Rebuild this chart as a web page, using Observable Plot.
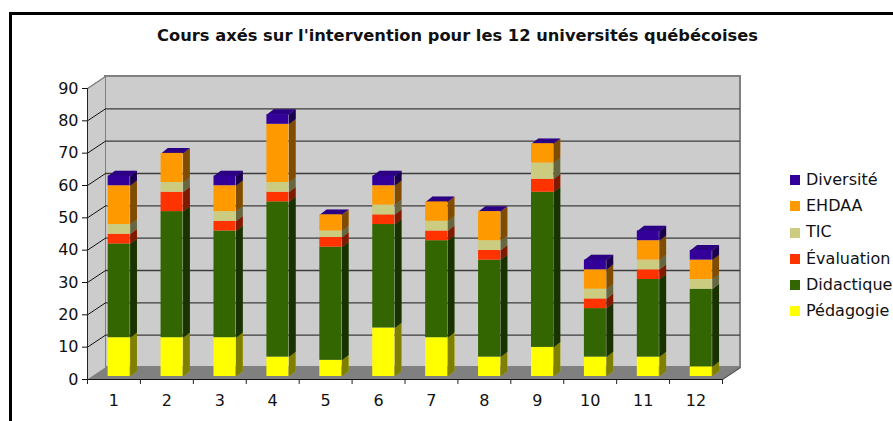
<!DOCTYPE html>
<html lang="fr">
<head>
<meta charset="utf-8">
<script src="https://cdn.jsdelivr.net/npm/d3@7"></script>
<script src="https://cdn.jsdelivr.net/npm/@observablehq/plot@0.6"></script>
<style>
html,body{margin:0;padding:0;background:#fff;overflow:hidden}
#wrap{position:relative;width:893px;height:421px;overflow:hidden;font-family:"DejaVu Sans",Verdana,sans-serif;color:#111}
#frame{position:absolute;left:9px;top:12px;right:-5px;bottom:-5px;border:3px solid #000;box-sizing:border-box;pointer-events:none}
#title{height:60px;box-sizing:border-box;padding:27px 0 0 22px;text-align:center;font-weight:bold;font-size:16.3px;line-height:18px;white-space:nowrap}
#legend{position:absolute;left:790px;top:167px;font-size:16px;line-height:26.2px}
#legend div{white-space:nowrap;display:flex;align-items:center}
#legend i{display:inline-block;width:10px;height:10px;margin-right:6px}
svg{display:block}
</style>
</head>
<body>
<div id="wrap">
  <div id="title"></div>
  <div id="chart"></div>
  <div id="legend"></div>
  <div id="frame"></div>
</div>
<script>
const titleText = "Cours axés sur l'intervention pour les 12 universités québécoises";
const universities = [1, 2, 3, 4, 5, 6, 7, 8, 9, 10, 11, 12];
const yTicks = [0, 10, 20, 30, 40, 50, 60, 70, 80, 90];

const pedagogie  = [12, 12, 12,  6,  5, 15, 12,  6,  9,  6,  6,  3];
const didactique = [29, 39, 33, 48, 35, 32, 30, 30, 48, 15, 24, 24];
const evaluation = [ 3,  6,  3,  3,  3,  3,  3,  3,  4,  3,  3,  0];
const tic        = [ 3,  3,  3,  3,  2,  3,  3,  3,  5,  3,  3,  3];
const ehdaa      = [12,  9,  8, 18,  5,  6,  6,  9,  6,  6,  6,  6];
const diversite  = [ 3,  0,  3,  3,  0,  3,  0,  0,  0,  3,  3,  3];

const seriesNames  = ["Pédagogie", "Didactique", "Évaluation", "TIC", "EHDAA", "Diversité"];
const seriesValues = [pedagogie, didactique, evaluation, tic, ehdaa, diversite];
const seriesColors = ["#ffff00", "#336600", "#ff3300", "#cccc80", "#ff9900", "#330099"];

// pixel sizes of one data unit, from the frame below
const W = 893, H = 361, mL = 87, mR = 171, mT = 28, mB = 42;
const xMin = 0.5, xMax = 12.5, yMax = 90;
const ux = (W - mL - mR) / (xMax - xMin), uy = (H - mT - mB) / yMax;
// oblique projection offsets, in data units
const wallDx = 18 / ux, wallDy = 12 / uy;
const barOffX = 5.2 / ux, barOffY = 3 / uy;
const barW = 22 / ux, barDx = 6.8 / ux, barDy = 5.3 / uy;

const poly = (key, fill, pts) => pts.map(([x, y]) => ({key, fill, x, y}));
const fronts = [], sides = [], tops = [];
universities.forEach((u, i) => {
  const xL = u - barW / 2 + barOffX, xR = xL + barW;
  let acc = 0;
  seriesNames.forEach((s, k) => {
    const v = seriesValues[k][i];
    const y1 = acc + barOffY, y2 = acc + v + barOffY;
    acc += v;
    if (v > 0) {
      fronts.push({series: s, x1: xL, x2: xR, y1, y2});
      sides.push(...poly(`${u}-${s}`, s, [[xR, y1], [xR, y2], [xR + barDx, y2 + barDy], [xR + barDx, y1 + barDy]]));
    }
  });
  const t = acc + barOffY;
  tops.push(...poly(`top-${u}`, "Diversité", [[xL, t], [xR, t], [xR + barDx, t + barDy], [xL + barDx, t + barDy]]));
});

const backWall = [{x1: xMin + wallDx, x2: xMax + wallDx, y1: wallDy, y2: yMax + wallDy}];
const sideWall = poly("side", "w", [[xMin, 0], [xMin, yMax], [xMin + wallDx, yMax + wallDy], [xMin + wallDx, wallDy]]);
const floor = poly("floor", "f", [[xMin, 0], [xMax, 0], [xMax + wallDx, wallDy], [xMin + wallDx, wallDy]]);
const gridVals = yTicks.filter(v => v > 0 && v < yMax);
const edges = d3.range(0, 13).map(k => xMin + k);

const closed = {x: "x", y: "y", z: "key", curve: "linear-closed"};

const plot = Plot.plot({
  width: W, height: H,
  marginLeft: mL, marginRight: mR, marginTop: mT, marginBottom: mB,
  x: {domain: [xMin, xMax], label: null},
  y: {domain: [0, yMax], label: null},
  color: {domain: seriesNames, range: seriesColors},
  style: {fontFamily: '"DejaVu Sans",Verdana,sans-serif', fontSize: "16px", color: "#111", background: "transparent", overflow: "visible"},
  marks: [
    Plot.rect(backWall, {x1: "x1", x2: "x2", y1: "y1", y2: "y2", fill: "#cccccc", stroke: "#808080", strokeWidth: 2}),
    Plot.line(sideWall, {...closed, fill: "#cccccc", stroke: "#808080", strokeWidth: 1}),
    Plot.line(floor, {...closed, fill: "#808080", stroke: "none"}),
    Plot.ruleY(gridVals, {y: d => d + wallDy, x1: xMin + wallDx, x2: xMax + wallDx, stroke: "#3c3c3c", strokeWidth: 1.4}),
    Plot.link(gridVals, {x1: xMin, x2: xMin + wallDx, y1: d => d, y2: d => d + wallDy, stroke: "#111", strokeWidth: 1}),
    Plot.link([0], {x1: xMax, x2: xMax + wallDx, y1: 0, y2: wallDy, stroke: "#555", strokeWidth: 1.2}),
    Plot.link([yMax], {x1: xMin, x2: xMin + wallDx, y1: d => d, y2: d => d + wallDy, stroke: "#808080", strokeWidth: 1.2}),
    Plot.ruleX([xMin], {y1: 0, y2: yMax, stroke: "#222", strokeWidth: 1}),
    Plot.ruleY([0], {x1: xMin, x2: xMax, stroke: "#111", strokeWidth: 1}),
    Plot.ruleX(edges, {y1: 0, y2: -5 / uy, stroke: "#222", strokeWidth: 1}),
    Plot.line(sides, {...closed, fill: "fill", stroke: "none"}),
    Plot.line(sides, {...closed, fill: "#000", fillOpacity: 0.5, stroke: "none"}),
    Plot.line(tops, {...closed, fill: "fill", stroke: "none"}),
    Plot.line(tops, {...closed, fill: "#000", fillOpacity: 0.15, stroke: "none"}),
    Plot.rect(fronts, {x1: "x1", x2: "x2", y1: "y1", y2: "y2", fill: "series", inset: 0}),
    Plot.axisY({ticks: yTicks, tickSize: 5, tickPadding: 4, label: null, stroke: "#111", fill: "#111", fontSize: 16}),
    Plot.axisX({ticks: universities, tickSize: 0, tickPadding: 15, label: null, tickFormat: String, fill: "#111", fontSize: 16})
  ]
});
document.getElementById("title").textContent = titleText;
document.getElementById("chart").appendChild(plot);

const legend = document.getElementById("legend");
seriesNames.map((s, k) => [s, seriesColors[k]]).reverse().forEach(([s, c]) => {
  const row = document.createElement("div");
  const sw = document.createElement("i");
  sw.style.background = c;
  row.appendChild(sw);
  row.appendChild(document.createTextNode(s));
  legend.appendChild(row);
});
</script>
</body>
</html>
